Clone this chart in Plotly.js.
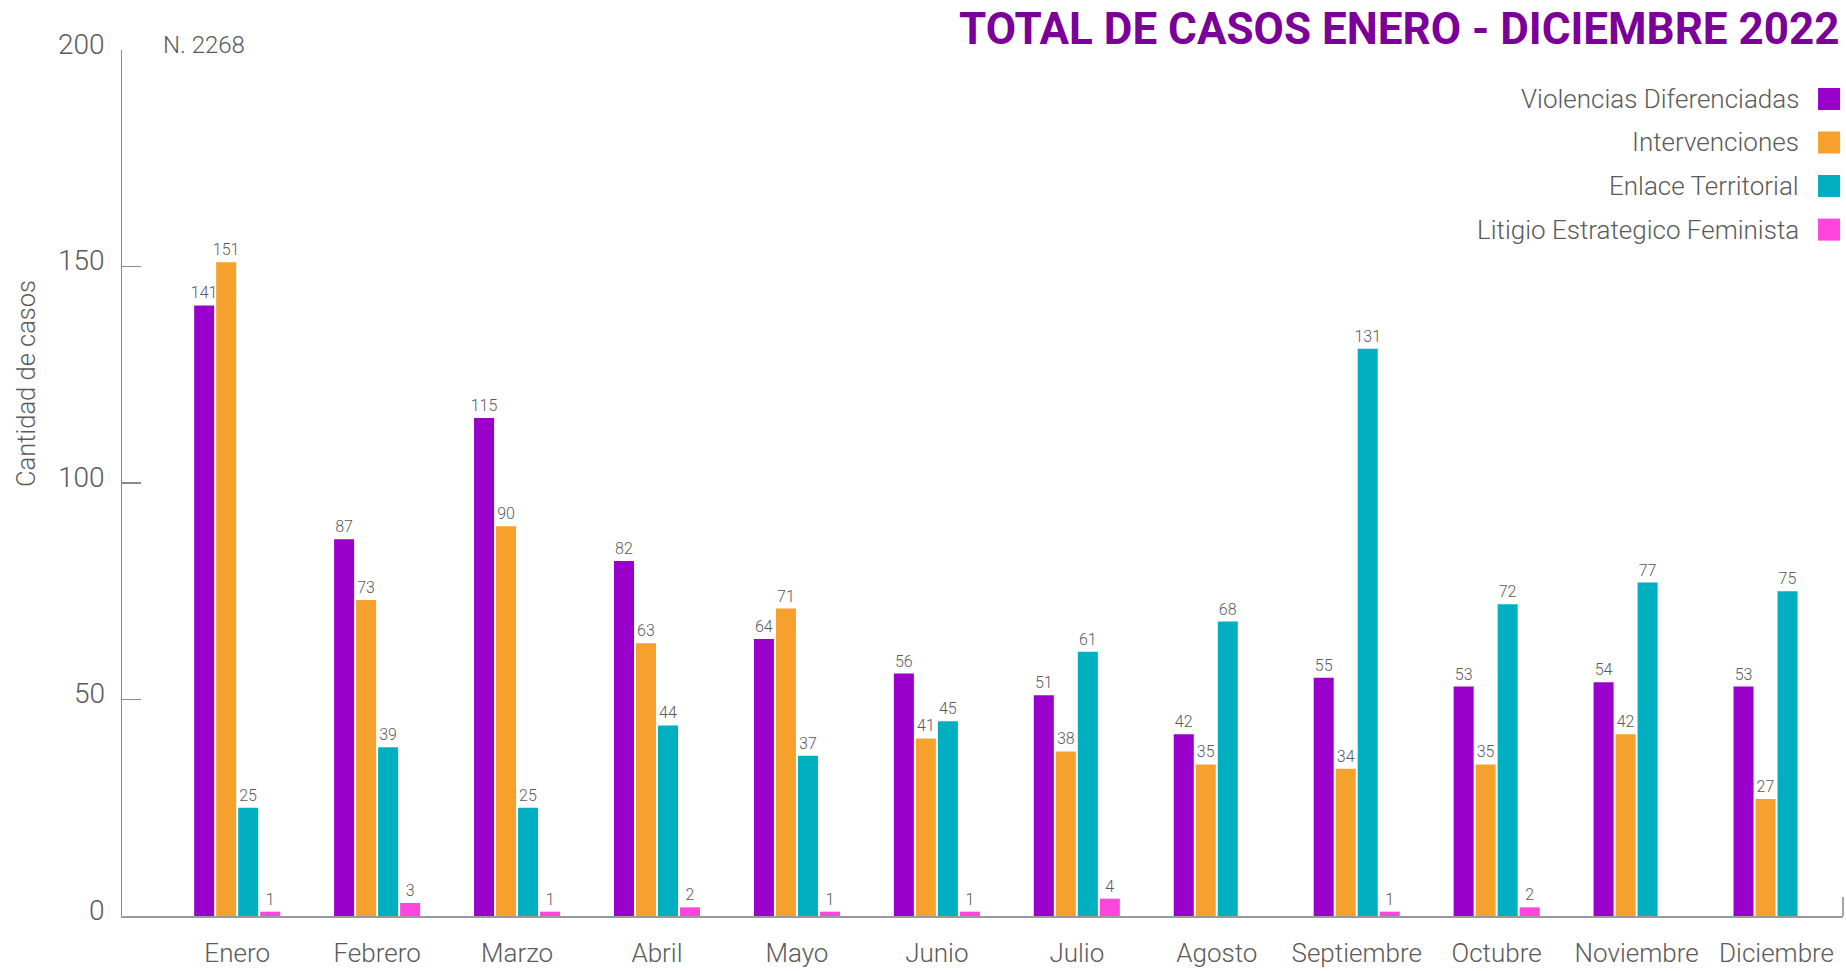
<!DOCTYPE html>
<html>
<head>
<meta charset="utf-8">
<script src="https://cdn.plot.ly/plotly-3.0.1.min.js"></script>
<style>html,body{margin:0;padding:0;background:#fff;}#chart{width:1846px;height:971px;}</style>
</head>
<body>
<div id="chart"></div>
<script>
const months = ["Enero","Febrero","Marzo","Abril","Mayo","Junio","Julio","Agosto","Septiembre","Octubre","Noviembre","Diciembre"];
const violencias = [141, 87, 115, 82, 64, 56, 51, 42, 55, 53, 54, 53];
const intervenciones = [151, 73, 90, 63, 71, 41, 38, 35, 34, 35, 42, 27];
const enlace = [25, 39, 25, 44, 37, 45, 61, 68, 131, 72, 77, 75];
const litigio = [1, 3, 1, 2, 1, 1, 4, 0, 1, 2, 0, 0];
const yTicks = [0, 50, 100, 150, 200];
const seriesNames = ["Violencias Diferenciadas","Intervenciones","Enlace Territorial","Litigio Estrategico Feminista"];
const seriesColors = ["#9900CC","#F6A12E","#00AFC0","#FF45DD"];
const seriesValues = [violencias, intervenciones, enlace, litigio];

const FONT = "Roboto, 'Open Sans', sans-serif";
const GREY = "#5a5a5a";

const traces = seriesValues.map((vals, i) => ({
  type: "bar",
  name: seriesNames[i],
  x: months,
  y: vals,
  marker: {color: seriesColors[i]},
  text: vals.map(v => v === 0 ? "" : String(v)),
  textposition: "outside",
  constraintext: "none",
  cliponaxis: false,
  textfont: {family: FONT, size: 16, color: GREY, weight: 300},
  hoverinfo: "x+y+name"
}));

const legendYs = [0.9434, 0.8932, 0.8430, 0.7926];
const annotations = [
  {xref:"paper", yref:"paper", x:0.0227, y:1.0058, xanchor:"left", yanchor:"middle", showarrow:false,
   text:"N. 2268", font:{family:FONT, size:24, color:GREY, weight:300}},
  {xref:"paper", yref:"paper", x:-0.0558, y:0.6155, xanchor:"center", yanchor:"middle", showarrow:false,
   textangle:-90, text:"Cantidad de casos", font:{family:FONT, size:25.5, color:GREY, weight:300}}
];
yTicks.forEach(v => {
  annotations.push({xref:"paper", yref:"y", x:0, y:v, xanchor:"right", yanchor:"middle", xshift:-15, yshift:6,
    showarrow:false, text:String(v), font:{family:FONT, size:28, color:GREY, weight:300}});
});
const shapes = [
  {type:"line", xref:"paper", yref:"paper", x0:1, x1:1, y0:0, y1:0.022, line:{color:"#8a8a8a", width:1.5}}
];
seriesNames.forEach((n, i) => {
  annotations.push({xref:"paper", yref:"paper", x:0.9756, y:legendYs[i], xanchor:"right", yanchor:"middle",
    showarrow:false, text:n, font:{family:FONT, size:26, color:GREY, weight:300}});
  shapes.push({type:"rect", xref:"paper", yref:"paper", x0:0.9855, x1:0.9983,
    y0:legendYs[i]-0.0127, y1:legendYs[i]+0.0127, fillcolor:seriesColors[i], line:{width:0}});
});

const layout = {
  width: 1846, height: 971,
  margin: {l:122, r:3, t:50, b:55},
  paper_bgcolor: "#fff", plot_bgcolor: "#fff",
  showlegend: false,
  barmode: "group",
  bargap: 0.371,
  bargroupgap: 0.09,
  title: {
    text: "TOTAL DE CASOS ENERO - DICIEMBRE 2022",
    xref: "container", yref: "container", x: 0.9965, y: 0.971, xanchor: "right", yanchor: "middle",
    font: {family: "Roboto, sans-serif", size: 44, color: "#7B0099", weight: 700}
  },
  xaxis: {
    type: "category",
    range: [-0.823, 11.475],
    showline: true, linecolor: "#9a9a9a", linewidth: 2,
    ticks: "", showgrid: false, zeroline: false,
    tickfont: {family: FONT, size: 26, color: GREY, weight: 300},
    ticklabelstandoff: 13
  },
  yaxis: {
    range: [0, 200],
    tickvals: yTicks,
    showticklabels: false,
    showline: true, linecolor: "#8a8a8a", linewidth: 1.5,
    ticks: "inside", ticklen: 19, tickcolor: "#8a8a8a", tickwidth: 1.5,
    showgrid: false, zeroline: false
  },
  annotations: annotations,
  shapes: shapes
};

Plotly.newPlot("chart", traces, layout, {displayModeBar: false, staticPlot: true});
</script>
</body>
</html>
